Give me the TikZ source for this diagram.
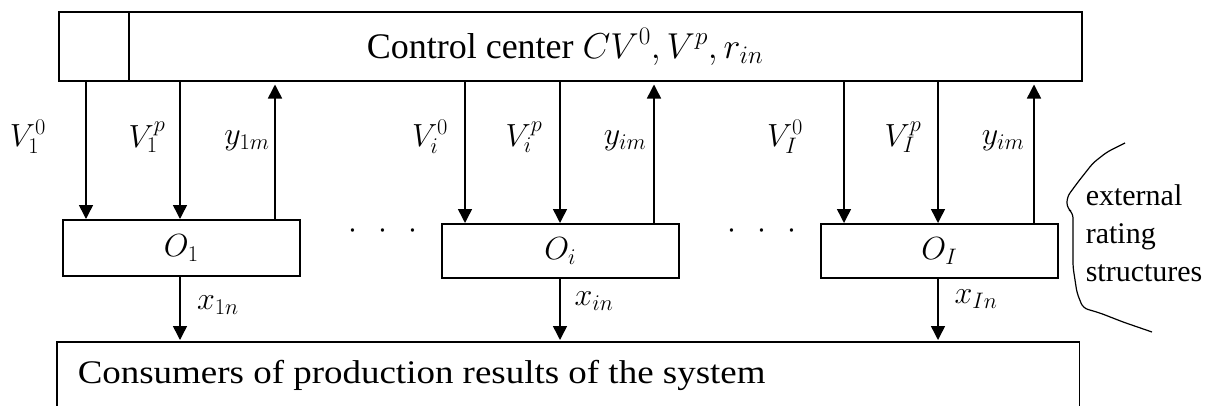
\RequirePackage{fix-cm}
\documentclass[tikz,border=0pt]{standalone}
\usepackage{fontspec}
\setmainfont{Liberation Serif}
\newfontfamily\widefont{Liberation Serif}[FakeStretch=1.12]
\usetikzlibrary{arrows.meta}
\tikzset{
  box/.style={draw, rectangle, inner sep=0pt, anchor=north west},
  arr/.style={-{Triangle[width=14pt,length=14pt]}},
  lab/.style={inner sep=0pt, font=\fontsize{32}{38}\selectfont},
}
\begin{document}
\begin{tikzpicture}[x=1pt, y=-1pt, line width=1.5pt]
\useasboundingbox (0,0) rectangle (1210,405);
% control center
\node[box, minimum width=1023pt, minimum height=69pt] (cc) at (58,11) {};
\coordinate (div) at (129,0);
\draw (div |- cc.north) -- (div |- cc.south);
\node[inner sep=0pt, anchor=base west, font=\fontsize{36}{43}\selectfont] (cct) at (366,58) {Control center $CV^0, V^p, r_{in}$};
% operators
\node[box, minimum width=237pt, minimum height=56pt] (o1) at (62,219) {};
\node[box, minimum width=237pt, minimum height=54pt] (oi) at (441,223) {};
\node[box, minimum width=237pt, minimum height=54pt] (oI) at (820,223) {};
\node[lab] (o1t) at (o1.center) {$O_1$};
\node[lab] (oit) at (oi.center) {$O_i$};
\node[lab] (oIt) at (oI.center) {$O_I$};
% consumers
\node[box, minimum width=1021pt, minimum height=80pt, draw=none] (cons) at (57,342) {};
\draw (cons.south west) -- (cons.north west) -- (cons.north east) -- (cons.south east);
\node[inner sep=0pt, anchor=base west, font=\widefont\fontsize{33}{40}\selectfont] (const) at (77,383) {Consumers of production results of the system};
% arrow x positions
\coordinate (a1) at (86,0);  \coordinate (b1) at (180,0);  \coordinate (c1) at (275,0);
\coordinate (ai) at (465,0); \coordinate (bi) at (560,0);  \coordinate (ci) at (654,0);
\coordinate (aI) at (844,0); \coordinate (bI) at (938,0);  \coordinate (cI) at (1034,0);
% arrows top <-> operators
\draw[arr] (a1 |- cc.south) -- (a1 |- o1.north);
\draw[arr] (b1 |- cc.south) -- (b1 |- o1.north);
\draw[arr] (c1 |- o1.north) -- ([yshift=-3pt]c1 |- cc.south);
\draw[arr] (ai |- cc.south) -- (ai |- oi.north);
\draw[arr] (bi |- cc.south) -- (bi |- oi.north);
\draw[arr] (ci |- oi.north) -- ([yshift=-3pt]ci |- cc.south);
\draw[arr] (aI |- cc.south) -- (aI |- oI.north);
\draw[arr] (bI |- cc.south) -- (bI |- oI.north);
\draw[arr] (cI |- oI.north) -- ([yshift=-3pt]cI |- cc.south);
% arrows operators -> consumers
\draw[arr] (b1 |- o1.south) -- ([yshift=2pt]b1 |- cons.north);
\draw[arr] (bi |- oi.south) -- ([yshift=2pt]bi |- cons.north);
\draw[arr] (bI |- oI.south) -- ([yshift=2pt]bI |- cons.north);
% labels
\node[lab] (l1) at (28,137) {$V_1^0$};
\node[lab] (l2) at (147,137) {$V_1^p$};
\node[lab] (l3) at (247,141) {$y_{1m}$};
\node[lab] (l4) at (430,137) {$V_i^0$};
\node[lab] (l5) at (524,137) {$V_i^p$};
\node[lab] (l6) at (625,141) {$y_{im}$};
\node[lab] (l7) at (785,137) {$V_I^0$};
\node[lab] (l8) at (903,137) {$V_I^p$};
\node[lab] (l9) at (1003,141) {$y_{im}$};
\node[lab] (x1) at (218,305) {$x_{1n}$};
\node[lab] (xi) at (594,301) {$x_{in}$};
\node[lab] (xI) at (976,299) {$x_{In}$};
% dots
\node[lab] (d1) at (383,231) {$\cdot\hspace{14pt}\cdot\hspace{14pt}\cdot$};
\node[lab] (d2) at (762,231) {$\cdot\hspace{14pt}\cdot\hspace{14pt}\cdot$};
% external rating structures
\draw[line width=1.2pt, rounded corners=5pt] (1125,143) -- (1107,152) -- (1093,163) -- (1078,182) -- (1067,197) -- (1067,208) -- (1073,213) -- (1073,267) -- (1077,293) -- (1083,308) -- (1100,313) -- (1123,322) -- (1152,332);
\node[inner sep=0pt, anchor=north west, align=left, font=\fontsize{30}{38}\selectfont] (ext) at (1085,184) {external\\rating\\structures};
\end{tikzpicture}
\end{document}
